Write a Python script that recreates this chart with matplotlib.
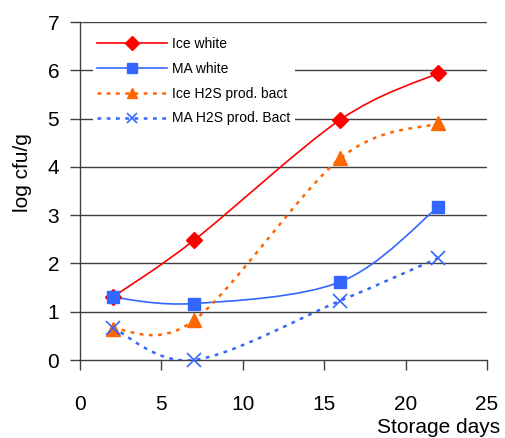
import matplotlib
matplotlib.use("Agg")
import matplotlib.pyplot as plt
import numpy as np
from matplotlib.path import Path
from matplotlib.patches import PathPatch
from matplotlib.lines import Line2D

plt.rcParams['font.family'] = ['Liberation Sans', 'DejaVu Sans']

days = [2, 7, 16, 22]
ice_white = [1.30, 2.48, 4.98, 5.94]
ma_white = [1.30, 1.17, 1.62, 3.17]
ice_h2s = [0.65, 0.82, 4.18, 4.90]
ma_h2s = [0.67, 0.00, 1.23, 2.11]

labels = ["Ice white", "MA white", "Ice H2S prod. bact", "MA H2S prod. Bact"]
x_ticks = [0, 5, 10, 15, 20, 25]
y_ticks = [0, 1, 2, 3, 4, 5, 6, 7]


def smooth_path(x, y):
    """Bezier path through the points (Catmull-Rom style control points)."""
    p = np.column_stack([x, y]).astype(float)
    n = len(p)
    verts = [p[0]]
    codes = [Path.MOVETO]
    for i in range(n - 1):
        p0 = p[i - 1] if i > 0 else p[i]
        p1 = p[i]
        p2 = p[i + 1]
        p3 = p[i + 2] if i + 2 < n else p[i + 1]
        c1 = p1 + (p2 - p0) / 6.0
        c2 = p2 - (p3 - p1) / 6.0
        verts += [c1, c2, p2]
        codes += [Path.CURVE4] * 3
    return Path(verts, codes)


fig = plt.figure(figsize=(5.05, 4.38), dpi=100)
ax = fig.add_axes([80 / 505, 1 - 360 / 438, 407 / 505, 338 / 438])

# values, colour, line style, marker, marker size, line width
series = [
    (ice_white, '#FF0000', '-', 'D', 8.5, 1.2),
    (ma_white, '#3366FF', '-', 's', 9, 1.2),
    (ice_h2s, '#FF6600', (0, (1.5, 2.2)), '^', 9.5, 1.8),
    (ma_h2s, '#3366FF', (0, (1.5, 2.2)), 'x', 9.5, 1.8),
]

handles = []
for (vals, color, ls, mk, ms, lw), lab in zip(series, labels):
    patch = PathPatch(smooth_path(days, vals), fill=False, edgecolor=color,
                      linewidth=lw, linestyle=ls, zorder=3)
    ax.add_patch(patch)
    if mk == 'x':
        ax.plot(days, vals, linestyle='none', marker=mk, markersize=ms,
                markeredgecolor=color, markeredgewidth=1.2, zorder=4,
                clip_on=False)
    else:
        ax.plot(days, vals, linestyle='none', marker=mk, markersize=ms,
                color=color, markeredgecolor=color, zorder=4, clip_on=False)
    handles.append(Line2D([], [], color=color, linestyle=ls, linewidth=lw,
                          marker=mk, markersize=ms * 0.8,
                          markeredgewidth=1.2 if mk == 'x' else 1.0,
                          label=lab))

ax.set_xlim(0, 25)
ax.set_ylim(0, 7)
ax.set_xticks(x_ticks)
ax.set_yticks(y_ticks)
ax.tick_params(axis='both', direction='out', length=7, width=1,
               labelsize=15, color='#404040')
ax.tick_params(axis='x', pad=18)
ax.tick_params(axis='y', pad=8)

for y in y_ticks[1:]:
    ax.axhline(y, color='#404040', linewidth=1, zorder=1)

for side in ['top', 'right']:
    ax.spines[side].set_visible(False)
for side in ['left', 'bottom']:
    ax.spines[side].set_color('#404040')
    ax.spines[side].set_linewidth(1)

leg = ax.legend(handles=handles, loc='upper left', bbox_to_anchor=(0.032, 0.968),
                frameon=True, fontsize=10, handlelength=5.0, handletextpad=0.4,
                labelspacing=0.78, borderpad=0.3, borderaxespad=0)
leg.get_frame().set_edgecolor('none')
leg.get_frame().set_facecolor('white')
leg.get_frame().set_alpha(1)
leg.set_zorder(5)

fig.text(22 / 505, 1 - 173 / 438, "log cfu/g", rotation=90, fontsize=15,
         ha='center', va='center')
fig.text(500 / 505, 1 - 433 / 438, "Storage days", fontsize=15,
         ha='right', va='baseline')

fig.savefig("out.png", dpi=100, facecolor='white')
